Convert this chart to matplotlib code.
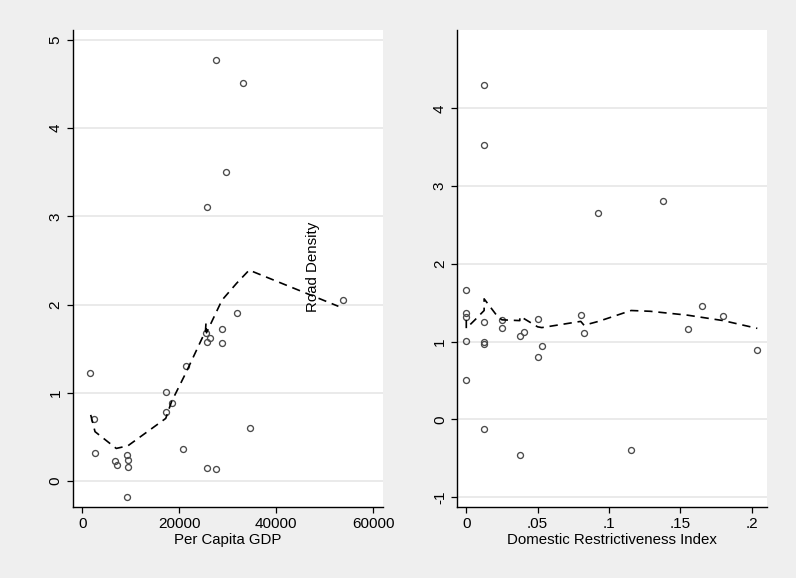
import matplotlib
matplotlib.use("Agg")
import matplotlib.pyplot as plt

plt.rcParams['font.family'] = ['Liberation Sans', 'DejaVu Sans']

# Left panel: Per Capita GDP vs Road Density (residuals)
gdp = [1590, 2480, 2620, 6740, 7090, 9220, 9420, 9360, 9220, 17260, 17190, 18430,
       20830, 21380, 25440, 26270, 25650, 28800, 28870, 31830, 25780, 27500,
       27630, 33200, 29570, 25780, 53820, 34580]
road = [1.23, 0.70, 0.32, 0.23, 0.185, 0.29, 0.235, 0.16, -0.18, 1.005, 0.78, 0.88,
        0.36, 1.305, 1.68, 1.62, 1.58, 1.725, 1.56, 1.906, 0.147, 0.14,
        4.77, 4.51, 3.50, 3.11, 2.05, 0.60]
fit1_x = [1730, 2620, 7000, 9400, 17200, 18400, 21300, 25400, 25500, 25600, 28800, 31800, 34400, 52800]
fit1_y = [0.75, 0.56, 0.37, 0.40, 0.71, 0.90, 1.22, 1.70, 1.79, 1.68, 2.05, 2.24, 2.39, 1.98]

# Right panel: Domestic Restrictiveness Index
dri = [0, 0, 0, 0, 0, 0.0125, 0.0125, 0.0125, 0.0125, 0.0125, 0.0125, 0.025, 0.025,
       0.0379, 0.0405, 0.05, 0.0503, 0.0529, 0.0379, 0.1155, 0.0802, 0.0825,
       0.155, 0.1653, 0.18, 0.2039, 0.0926, 0.1375]
road2 = [1.66, 1.37, 1.32, 1.008, 0.506, 1.256, 0.995, 0.97, -0.125, 4.30, 3.53, 1.28, 1.18,
         1.07, 1.12, 1.29, 0.806, 0.94, -0.46, -0.40, 1.34, 1.11,
         1.158, 1.454, 1.333, 0.896, 2.65, 2.81]
fit2_x = [0, 0, 0.0061, 0.0125, 0.0125, 0.022, 0.025, 0.0375, 0.0375, 0.04, 0.05, 0.0529,
          0.0802, 0.0825, 0.0926, 0.1155, 0.1288, 0.155, 0.18, 0.2039]
fit2_y = [1.28, 1.17, 1.28, 1.40, 1.55, 1.32, 1.28, 1.27, 1.32, 1.30, 1.19, 1.18,
          1.26, 1.21, 1.26, 1.40, 1.39, 1.34, 1.27, 1.17]

W, H = 796, 578
fig = plt.figure(figsize=(W / 100, H / 100), dpi=100)
fig.patch.set_facecolor('#efefef')

def px_axes(l, t, r, b):
    return fig.add_axes([l / W, 1 - b / H, (r - l) / W, (b - t) / H])

ax1 = px_axes(73, 30, 383, 506.7)
ax2 = px_axes(457.3, 30, 767, 506.7)

mk = dict(marker='o', markersize=4.3, markerfacecolor='none', markeredgecolor='#4a4a4a',
          markeredgewidth=0.95, linestyle='none')
ln = dict(color='black', linewidth=1.2, dashes=(5, 3.5))

ax1.plot(gdp, road, **mk, zorder=3)
ax1.plot(fit1_x, fit1_y, **ln, zorder=4)
ax1.set_xlim(-1920, 62000)
ax1.set_ylim(-0.29, 5.11)
ax1.set_xticks([0, 20000, 40000, 60000])
ax1.set_xticklabels(['0', '20000', '40000', '60000'])
ax1.set_yticks([0, 1, 2, 3, 4, 5])
ax1.set_yticklabels(['0', '1', '2', '3', '4', '5'])
ax1.set_xlabel('Per Capita GDP', fontsize=10.8, labelpad=1)
ax1.text(47630, 2.43, 'Road Density', rotation=90, ha='center', va='center', fontsize=10.8, zorder=5)

ax2.plot(dri, road2, **mk, zorder=3)
ax2.plot(fit2_x, fit2_y, **ln, zorder=4)
ax2.set_xlim(-0.0063, 0.2107)
ax2.set_ylim(-1.125, 5.01)
ax2.set_xticks([0, 0.05, 0.1, 0.15, 0.2])
ax2.set_xticklabels(['0', '.05', '.1', '.15', '.2'])
ax2.set_yticks([-1, 0, 1, 2, 3, 4])
ax2.set_yticklabels(['-1', '0', '1', '2', '3', '4'])
ax2.set_xlabel('Domestic Restrictiveness Index', fontsize=10.8, labelpad=1)

for ax in (ax1, ax2):
    ax.set_facecolor('white')
    for s in ('top', 'right'):
        ax.spines[s].set_visible(False)
    for s in ('left', 'bottom'):
        ax.spines[s].set_color('black')
        ax.spines[s].set_linewidth(1.0)
    ax.yaxis.grid(True, color='#e6e6e6', linewidth=1.2)
    ax.set_axisbelow(True)
    ax.tick_params(axis='both', direction='out', length=4.5, width=0.9, labelsize=11, pad=3, color='black')
    for lab in ax.get_yticklabels():
        lab.set_rotation(90)
        lab.set_va('center')

fig.savefig('out.png', dpi=100, facecolor=fig.get_facecolor())
